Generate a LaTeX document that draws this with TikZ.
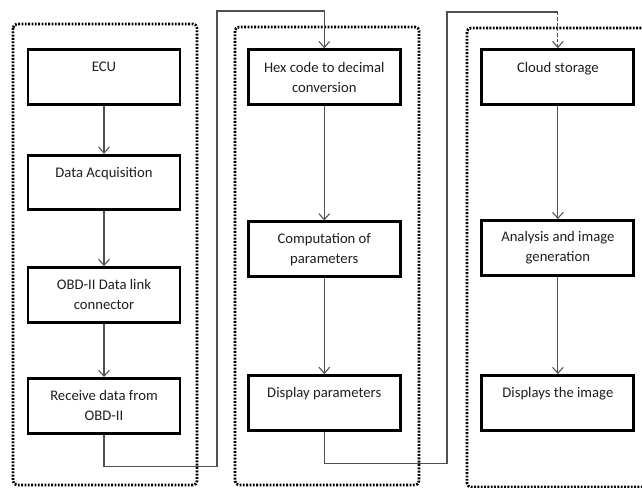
\documentclass[tikz,border=0pt]{standalone}
\usepackage{fontspec}
\setmainfont{Carlito}
\usetikzlibrary{arrows.meta,positioning}
\definecolor{FlowGrey}{HTML}{505050}
\definecolor{TextInk}{HTML}{1E1E1E}

\begin{document}
\begin{tikzpicture}[x=0.75pt,y=-0.75pt,font=\fontsize{11}{15}\selectfont,
  stage/.style={draw=black,line width=2.2pt,align=center,minimum width=114pt,minimum height=41pt,text=TextInk,inner sep=3pt},
  group/.style={line width=2pt,dash pattern=on 1.4pt off 1.1pt,rounded corners=3pt},
  link/.style={draw=FlowGrey,line width=0.8pt},
  flow/.style={-{Straight Barb[length=4.5pt,width=8pt]}}]
  \useasboundingbox (0,0) rectangle (642,488);
  % column one
  \node[stage] (ecu) at (104,77) {ECU\\~};
  \node[stage,below=36pt of ecu] (daq) {Data Acquisition\\~};
  \node[stage,below=41pt of daq] (obd) {OBD-II Data link\\connector};
  \node[stage,below=40pt of obd] (recv) {Receive data from\\OBD-II};
  % column two
  \node[stage,right=49pt of ecu] (hex) {Hex code to decimal\\conversion};
  \node[stage,below=86pt of hex] (comp) {Computation of\\parameters};
  \node[stage,below=72pt of comp] (disp) {Display parameters\\~};
  % column three
  \node[stage,right=59pt of hex] (cloud) {Cloud storage\\~};
  \node[stage,below=85pt of cloud] (anal) {Analysis and image\\generation};
  \node[stage,below=73pt of anal] (dimg) {Displays the image\\~};
  % dotted groups
  \draw[group] (13,24) rectangle (197,485);
  \draw[group] (235,27) rectangle (419,485);
  \draw[group] (648,28) -- (467,28) -- (467,487) -- (648,487);
  % links
  \draw[link,flow] (ecu) -- (daq);
  \draw[link,flow] (daq) -- (obd);
  \draw[link,flow] (obd) -- (recv);
  \draw[link,flow] (hex) -- (comp);
  \draw[link,flow] (comp) -- (disp);
  \draw[link,flow] (cloud) -- (anal);
  \draw[link,flow] (anal) -- (dimg);
  \coordinate (up1) at (217,11);
  \draw[link,flow] (recv.south) -- ++(0,32) -| (up1) -| (hex.north);
  \coordinate (up2) at (447,12);
  \coordinate (drop2) at (cloud.north |- up2);
  \draw[link] (disp.south) -- ++(0,32) -| (up2) -- (drop2);
  \draw[link,flow,dash pattern=on 2.5pt off 1.5pt] (drop2) -- (cloud.north);
\end{tikzpicture}
\end{document}
